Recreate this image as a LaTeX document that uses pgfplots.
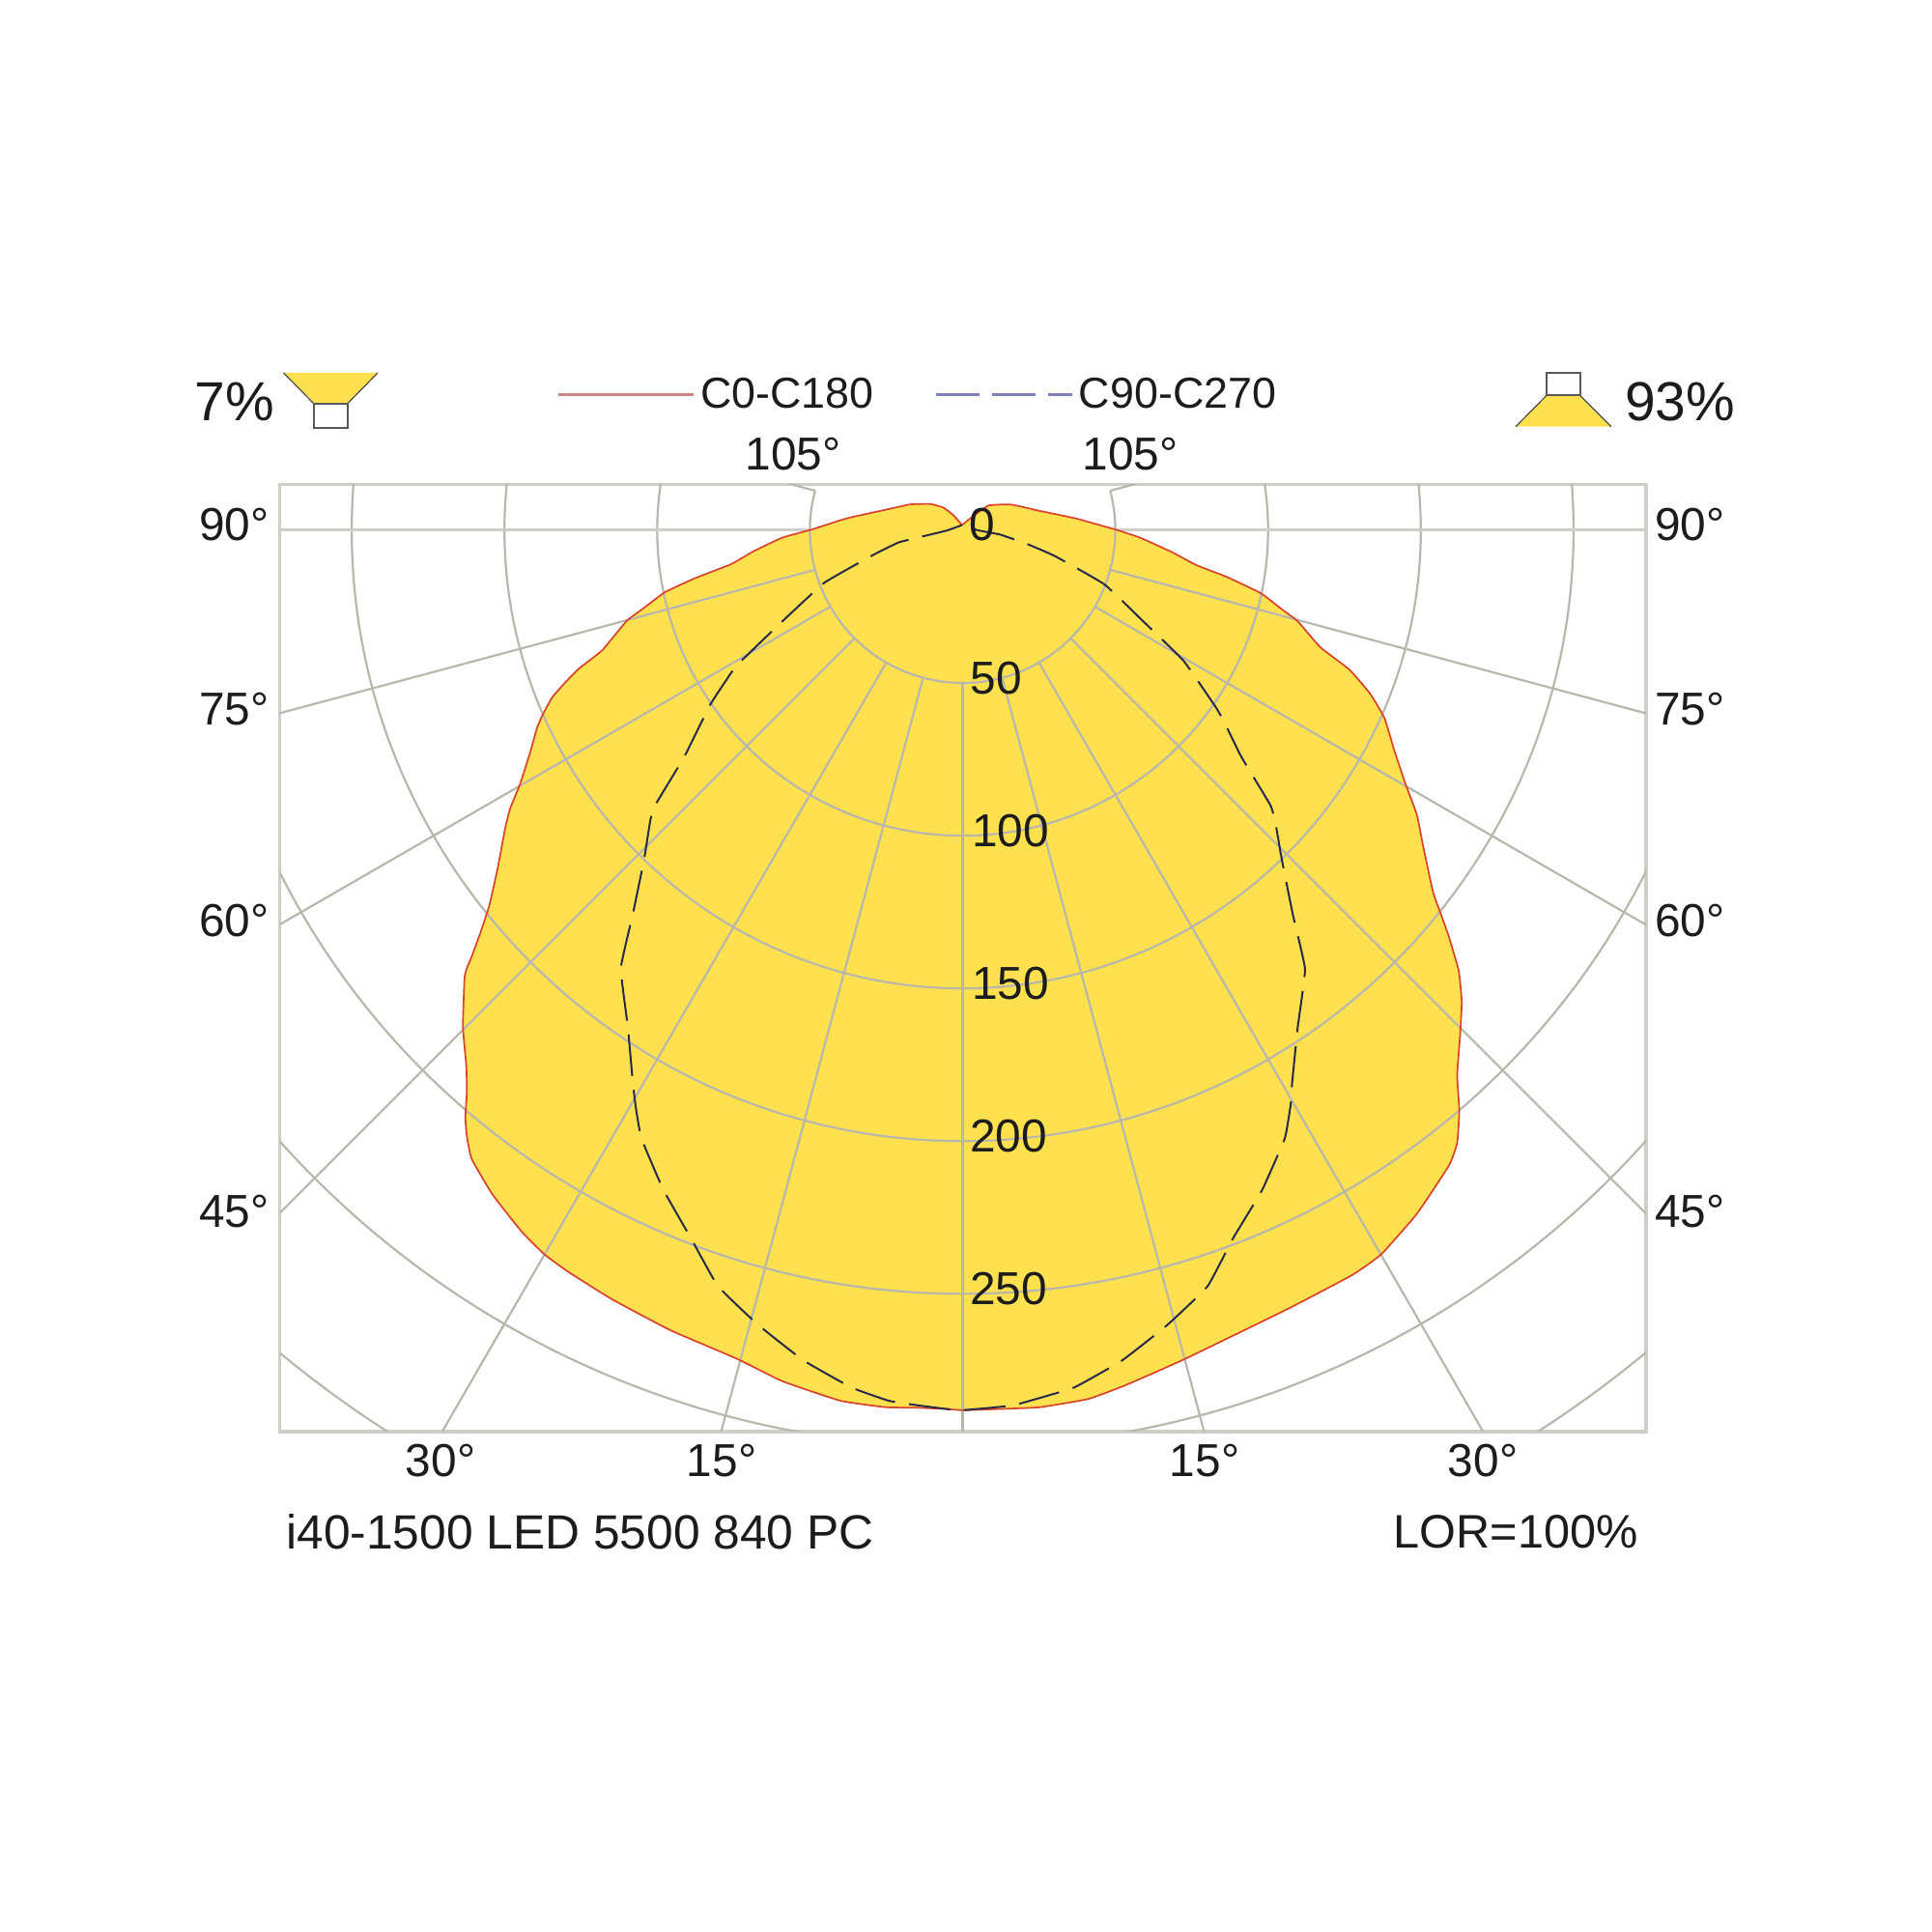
\documentclass[border=0pt]{standalone}
\usepackage{pgfplots}
\usepackage{pgfplotstable}
\usepackage{fontspec}
\setmainfont{Liberation Sans}
\pgfplotsset{compat=1.18}
\definecolor{lumfill}{HTML}{FFE14F}
\definecolor{gridc}{HTML}{B9B7AC}
\definecolor{framec}{HTML}{CFCEC8}
\definecolor{redc}{HTML}{D8432A}
\definecolor{bluec}{HTML}{2A2A48}
\definecolor{txt}{HTML}{1C1C1C}
\definecolor{legred}{HTML}{C98585}
\definecolor{legblue}{HTML}{7F80B8}
\newcommand{\fLab}{\fontsize{13.6}{15}\selectfont}
\newcommand{\fLeg}{\fontsize{12.75}{15}\selectfont}
\newcommand{\fBig}{\fontsize{16.2}{18}\selectfont}
\newcommand{\fBot}{\fontsize{14.15}{17}\selectfont}
\newcommand{\fLor}{\fontsize{13.85}{16}\selectfont}
% luminous intensity distribution in cd/klm (x = I sin g, y = -I cos g)
\pgfplotstableread{
x y
-0.2 1.7
-3.1 5.0
-6.3 7.4
-10.5 8.6
-16.9 8.5
-22.1 7.4
-37.9 3.9
-49.5 0.2
-59.0 -2.4
-68.5 -6.9
-75.8 -11.1
-87.4 -15.6
-97.5 -20.3
-104.3 -25.4
-110.1 -29.8
-118.0 -39.3
-125.4 -45.1
-129.6 -49.3
-134.3 -54.6
-137.5 -60.4
-139.3 -64.6
-141.7 -73.1
-144.9 -83.1
-148.1 -91.0
-149.7 -97.3
-152.3 -111.0
-154.9 -122.6
-157.6 -131.0
-160.7 -139.5
-162.4 -143.6
-163.1 -146.8
-163.6 -162.7
-162.5 -175.3
-162.3 -183.7
-162.8 -192.2
-162.3 -198.5
-160.7 -205.9
-153.9 -217.5
-144.4 -229.6
-137.0 -237.0
-129.1 -242.8
-114.9 -251.7
-95.9 -261.8
-73.8 -271.3
-59.0 -278.6
-40.0 -285.0
-25.2 -287.1
-14.7 -287.3
-5.2 -287.7
0 -288.1
14.8 -287.6
25.4 -287.1
41.2 -284.4
53.8 -279.7
72.8 -271.3
106.5 -254.9
127.6 -243.8
137.1 -237.0
148.7 -223.8
159.2 -208.0
161.9 -200.6
162.6 -190.1
161.9 -178.5
162.9 -164.8
163.4 -154.2
162.4 -144.2
159.2 -133.1
156.6 -125.8
154.0 -118.4
150.8 -103.6
148.7 -93.1
145.0 -83.1
141.3 -72.0
138.1 -61.5
133.4 -53.5
126.6 -45.6
117.1 -38.3
109.7 -29.8
104.4 -25.8
97.6 -20.6
86.5 -15.3
76.5 -11.4
68.6 -7.2
58.0 -2.4
50.1 0.2
36.9 3.9
25.4 6.3
15.9 8.4
8.5 8.1
3.4 4.6
-0.2 1.7
}\cZero
\pgfplotstableread{
x y
-0.2 1.7
-5.2 -0.1
-12.6 -1.9
-21.0 -4.0
-29.5 -8.2
-45.3 -17.2
-59.0 -29.8
-72.2 -42.5
-75.8 -46.7
-82.7 -57.2
-91.1 -74.1
-100.6 -89.9
-102.2 -94.7
-104.3 -107.8
-108.0 -125.8
-111.9 -143.4
-109.6 -162.7
-108.0 -180.6
-107.0 -189.0
-105.2 -199.0
-98.0 -215.9
-89.0 -231.7
-80.1 -247.5
-66.9 -260.2
-52.1 -271.8
-36.3 -280.7
-24.2 -285.0
-14.7 -286.5
-5.2 -287.7
0 -288.1
14.3 -286.8
18.5 -286.0
36.4 -280.7
52.2 -271.8
67.0 -260.2
80.2 -247.5
88.6 -231.7
98.1 -215.9
105.5 -199.0
107.4 -188.0
107.9 -180.6
109.7 -162.7
112.1 -143.7
108.1 -125.8
104.4 -107.3
102.3 -95.2
100.7 -89.9
91.2 -74.1
85.5 -62.5
82.8 -57.8
72.3 -42.7
59.1 -29.8
46.4 -17.7
30.1 -8.4
21.1 -4.5
12.2 -1.4
4.9 0
-0.2 1.7
}\cNinety
\begin{document}
\begin{tikzpicture}
\path[use as bounding box] (-28.95mm,-51.8mm) rectangle ++(200mm,200mm);
\begin{axis}[
  scale only axis, width=141.45mm, height=98.05mm,
  xmin=-223.6, xmax=223.75, ymin=-295.1, ymax=15.0,
  xtick=\empty, ytick=\empty,
  axis line style={draw=framec, line width=0.32mm},
]
\addplot[draw=none, fill=lumfill, smooth, tension=0.25] table[x=x,y=y] {\cZero} -- cycle;
% grid
\begin{scope}[gridc, line width=0.22mm]
\draw (0,0) circle [radius=100];
\draw (0,0) circle [radius=150];
\draw (0,0) circle [radius=200];
\draw (0,0) circle [radius=250];
\draw (0,0) circle [radius=300];
\draw (0,0) circle [radius=350];
\draw (-48.3,12.94) arc [start angle=165, end angle=375, radius=50];
\end{scope}
\pgfplotsset{every axis plot/.append style={no marks}}
\addplot[gridc, line width=0.22mm] coordinates {(0,-50) (0,-500)};
\addplot[gridc, line width=0.22mm] coordinates {(-12.94,-48.3) (-129.4,-483)};
\addplot[gridc, line width=0.22mm] coordinates {(12.94,-48.3) (129.4,-483)};
\addplot[gridc, line width=0.22mm] coordinates {(-25,-43.3) (-250,-433)};
\addplot[gridc, line width=0.22mm] coordinates {(25,-43.3) (250,-433)};
\addplot[gridc, line width=0.22mm] coordinates {(-35.36,-35.36) (-353.6,-353.6)};
\addplot[gridc, line width=0.22mm] coordinates {(35.36,-35.36) (353.6,-353.6)};
\addplot[gridc, line width=0.22mm] coordinates {(-43.3,-25) (-433,-250)};
\addplot[gridc, line width=0.22mm] coordinates {(43.3,-25) (433,-250)};
\addplot[gridc, line width=0.22mm] coordinates {(-48.3,-12.94) (-483,-129.4)};
\addplot[gridc, line width=0.22mm] coordinates {(48.3,-12.94) (483,-129.4)};
\addplot[framec, line width=0.3mm] coordinates {(-50,0) (-500,0)};
\addplot[framec, line width=0.3mm] coordinates {(50,0) (500,0)};
\addplot[gridc, line width=0.22mm] coordinates {(-48.3,12.94) (-483,129.4)};
\addplot[gridc, line width=0.22mm] coordinates {(48.3,12.94) (483,129.4)};
% curves
\addplot[redc, line width=0.17mm, line join=round, smooth, tension=0.25] table[x=x,y=y] {\cZero};
\addplot[bluec, line width=0.2mm, line join=round, smooth, tension=0.2, dash pattern=on 4.3mm off 1.45mm] table[x=x,y=y] {\cNinety};
\end{axis}
% picture furniture in image pixels
\begin{scope}[shift={(-28.95mm,148.2mm)}, x=0.1mm, y=-0.1mm, every node/.style={inner sep=0pt, text=txt}]
\node[font=\fBig] at (242.5,416) {7\%};
\node[font=\fBig] at (1739,416) {93\%};
\node[font=\fLeg] at (815,407) {C0-C180};
\node[font=\fLeg] at (1219,407) {C90-C270};
\node[font=\fLab] at (821,470) {105°};
\node[font=\fLab] at (1170,470) {105°};
\node[font=\fLab] at (242.5,543) {90°};
\node[font=\fLab] at (1749.5,543) {90°};
\node[font=\fLab] at (242.5,734) {75°};
\node[font=\fLab] at (1749.5,734) {75°};
\node[font=\fLab] at (242.5,953) {60°};
\node[font=\fLab] at (1749.5,953) {60°};
\node[font=\fLab] at (242.5,1254) {45°};
\node[font=\fLab] at (1749.5,1254) {45°};
\node[font=\fLab] at (456,1512) {30°};
\node[font=\fLab] at (747,1512) {15°};
\node[font=\fLab] at (1247,1512) {15°};
\node[font=\fLab] at (1535,1512) {30°};
\node[font=\fBot] at (600.5,1586) {i40-1500 LED 5500 840 PC};
\node[font=\fLor] at (1569,1586) {LOR=100\%};
\node[font=\fLab] at (1017,543) {0};
\node[font=\fLab] at (1031,702) {50};
\node[font=\fLab] at (1046,860) {100};
\node[font=\fLab] at (1046,1018) {150};
\node[font=\fLab] at (1044,1176) {200};
\node[font=\fLab] at (1044,1334) {250};
% legend lines
\draw[legred, line width=0.3mm] (577.6,409) -- (718,409);
\draw[legblue, line width=0.3mm, dash pattern=on 4.5mm off 1.3mm] (969,409) -- (1110,409);
% lamp icons
\fill[lumfill] (293.5,386) -- (391,386) -- (359.5,418) -- (325,418) -- cycle;
\draw[black!70, line width=0.12mm] (293.5,386) -- (325,418) (391,386) -- (359.5,418);
\draw[black!65, line width=0.2mm, fill=white] (325,418) rectangle (359.5,442.7);
\fill[lumfill] (1601,409.3) -- (1635.5,409.3) -- (1668,441.7) -- (1569,441.7) -- cycle;
\draw[black!70, line width=0.12mm] (1601,409.3) -- (1569,441.7) (1635.5,409.3) -- (1668,441.7);
\draw[black!65, line width=0.2mm, fill=white] (1601,386) rectangle (1635.5,409.3);
\end{scope}
\end{tikzpicture}
\end{document}
